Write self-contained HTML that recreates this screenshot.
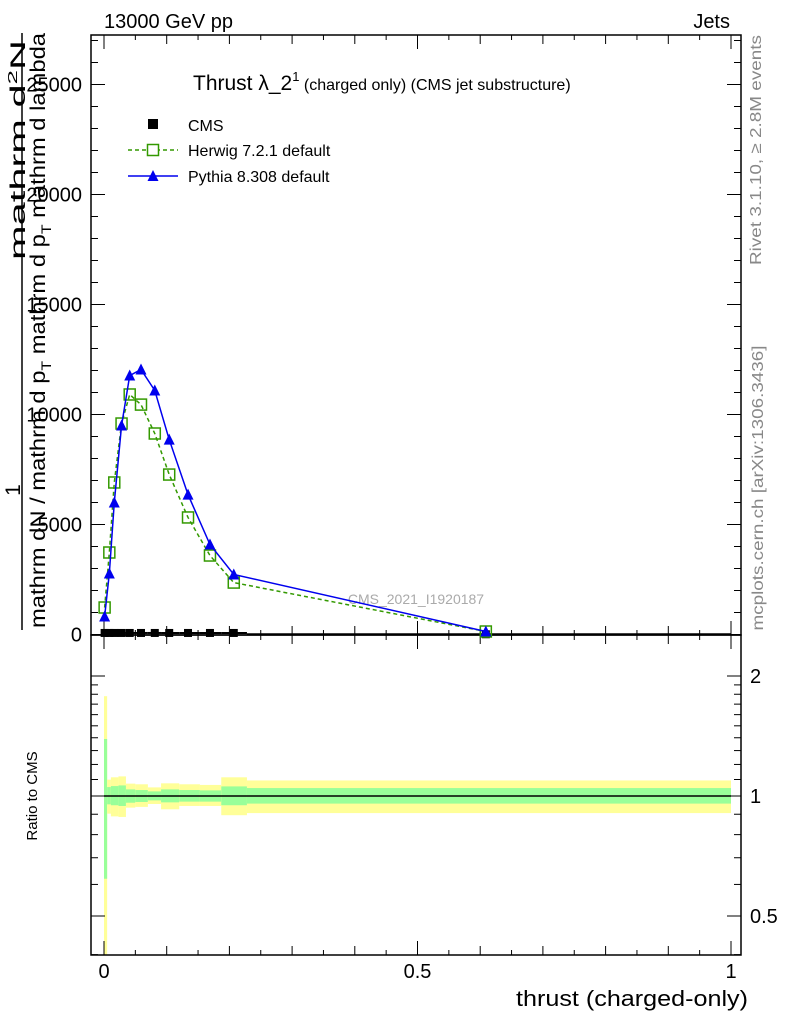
<!DOCTYPE html>
<html><head><meta charset="utf-8"><style>
body{margin:0;background:#fff}
svg{display:block;font-family:"Liberation Sans",sans-serif}
</style></head><body>
<svg id="c" width="786" height="1024" viewBox="0 0 786 1024">
<rect width="786" height="1024" fill="#fff"/>
<text x="104" y="28" font-size="20">13000 GeV pp</text>
<text x="730" y="28" font-size="20" text-anchor="end">Jets</text>
<text x="193" y="90" font-size="21">Thrust λ_2<tspan font-size="13" dy="-9">1</tspan><tspan font-size="16" dy="9"> (charged only) (CMS jet substructure)</tspan></text>
<text transform="translate(761,150) rotate(-90)" font-size="16" fill="#888" text-anchor="middle" textLength="230" lengthAdjust="spacingAndGlyphs">Rivet 3.1.10, ≥ 2.8M events</text>
<text transform="translate(763,488) rotate(-90)" font-size="16" fill="#888" text-anchor="middle" textLength="285" lengthAdjust="spacingAndGlyphs">mcplots.cern.ch [arXiv:1306.3436]</text>
<text x="416" y="604" font-size="14" fill="#aaa" text-anchor="middle">CMS_2021_I1920187</text>
<g font-size="21">
<text transform="translate(25,150) rotate(-90)" text-anchor="middle" textLength="220" lengthAdjust="spacingAndGlyphs">mathrm d<tspan font-size="13" dy="-8">2</tspan><tspan dy="8">N</tspan></text>
<line x1="22" y1="33" x2="22" y2="630" stroke="#000" stroke-width="1.5"/>
<text transform="translate(20,490) rotate(-90)" text-anchor="middle">1</text>
<text transform="translate(45,628) rotate(-90)" textLength="595" lengthAdjust="spacingAndGlyphs">mathrm dN / mathrm d p<tspan font-size="14" dy="6">T</tspan><tspan dy="-6"> mathrm d p</tspan><tspan font-size="14" dy="6">T</tspan><tspan dy="-6"> mathrm d lambda</tspan></text>
</g>
<text transform="translate(37,796) rotate(-90)" font-size="15" text-anchor="middle">Ratio to CMS</text>
<text x="748" y="1006" font-size="22" text-anchor="end" textLength="232" lengthAdjust="spacingAndGlyphs">thrust (charged-only)</text>
<g id="g"></g>
</svg>
<script>
const xVals=[0.001,0.0085,0.0164,0.028,0.041,0.059,0.081,0.104,0.134,0.169,0.207,0.609];
const binEdges=[0,0.005,0.011,0.023,0.035,0.05,0.07,0.091,0.12,0.153,0.187,0.228,1];
const cmsVals=[70,70,70,70,70,70,70,70,70,70,70,10];
const herwigVals=[1227,3727,6910,9590,10910,10450,9136,7270,5320,3590,2360,136];
const pythiaVals=[818,2773,6000,9500,11770,12045,11090,8860,6360,4090,2730,136];
const yellowUp=[1.78,1.099,1.114,1.12,1.074,1.07,1.051,1.076,1.07,1.066,1.114,1.094];
const yellowDn=[0.39,0.903,0.889,0.886,0.935,0.939,0.955,0.926,0.944,0.944,0.895,0.906];
const greenUp=[1.39,1.053,1.059,1.063,1.039,1.035,1.027,1.039,1.035,1.033,1.057,1.047];
const greenDn=[0.62,0.953,0.948,0.944,0.962,0.966,0.975,0.964,0.968,0.968,0.948,0.957];
const mainTicks=[0,5000,10000,15000,20000,25000];
const xTicks=[0,0.5,1];
const ratioTicks=[0.5,1,2];

const L=91,R=741,MT=35,MB=635,RB=955;
const X=v=>104+v*627;
const Y=v=>634.5-v*0.022;
const RY=v=>796-Math.log10(v)*398.6;
const NS='http://www.w3.org/2000/svg';
const g=document.getElementById('g');
function mk(t,a,p){const e=document.createElementNS(NS,t);for(const k in a)e.setAttribute(k,a[k]);(p||g).appendChild(e);return e;}

const bands=mk('g',{});


for(let i=0;i<binEdges.length-1;i++){
  const x1=X(binEdges[i]),x2=X(binEdges[i+1]);
  const yt=Math.max(RY(yellowUp[i]),MB),yb=Math.min(RY(yellowDn[i]),RB);
  const r1=mk('rect',{x:x1,y:yt,width:x2-x1,height:yb-yt,fill:'#ffff99'},bands);
  
  
  const gt=RY(greenUp[i]),gb=RY(greenDn[i]);
  const r2=mk('rect',{x:x1,y:gt,width:x2-x1,height:gb-gt,fill:'#99ff99'},bands);
  
  
}
const rl=mk('line',{x1:X(binEdges[0]),x2:X(binEdges[binEdges.length-1]),y1:RY(1),y2:RY(1),stroke:'#000','stroke-width':1.5});



const f1=mk('rect',{x:L,y:MT,width:R-L,height:MB-MT,fill:'none',stroke:'#000','stroke-width':1.5});


const f2=mk('rect',{x:L,y:MB,width:R-L,height:RB-MB,fill:'none',stroke:'#000','stroke-width':1.5});



for(let k=0;k<=20;k++){
  const v=k*0.05,x=X(v);
  const len=(k%10==0)?14:(k%2==0?9:5);
  for(const [yb,d] of [[MB,-1],[MT,1],[RB,-1],[MB,1]]) mk('line',{x1:x,x2:x,y1:yb,y2:yb+d*len,stroke:'#000'});
}
xTicks.forEach(v=>{const t=mk('text',{x:X(v),y:978,'font-size':20,'text-anchor':'middle'});t.textContent=String(v);

});
for(let v=0;v<=27000;v+=1000){const y=Y(v),len=v%5000==0?14:7;
 mk('line',{x1:L,x2:L+len,y1:y,y2:y,stroke:'#000'});mk('line',{x1:R,x2:R-len,y1:y,y2:y,stroke:'#000'});}
mainTicks.forEach(v=>{const t=mk('text',{x:82,y:Y(v)+7,'font-size':20,'text-anchor':'end'});t.textContent=String(v);

});
for(let v=0.4;v<=2.5;v+=(v<2?0.1:0.5)){const y=RY(v);if(y<MB||y>RB)continue;
 const major=ratioTicks.some(r=>Math.abs(r-v)<1e-6);const len=major?14:7;
 mk('line',{x1:L,x2:L+len,y1:y,y2:y,stroke:'#000'});mk('line',{x1:R,x2:R-len,y1:y,y2:y,stroke:'#000'});}
ratioTicks.forEach(v=>{
 const t2=mk('text',{x:750,y:RY(v)+7,'font-size':20});t2.textContent=String(v);
 
 });

for(let i=0;i<cmsVals.length;i++){
 const l=mk('line',{x1:X(binEdges[i]),x2:X(binEdges[i+1]),y1:Y(cmsVals[i]),y2:Y(cmsVals[i]),stroke:'#000','stroke-width':2});
 
 
 const r=mk('rect',{x:X(xVals[i])-4,y:Y(cmsVals[i])-4,width:8,height:8,fill:'#000'});
 
 
}
const hp=mk('polyline',{points:xVals.map((x,i)=>X(x)+','+Y(herwigVals[i])).join(' '),fill:'none',stroke:'#339900','stroke-width':1.5,'stroke-dasharray':'4,3'});


xVals.forEach((x,i)=>{const r=mk('rect',{x:X(x)-5.5,y:Y(herwigVals[i])-5.5,width:11,height:11,fill:'none',stroke:'#339900','stroke-width':1.5});
 
 });
const pp=mk('polyline',{points:xVals.map((x,i)=>X(x)+','+Y(pythiaVals[i])).join(' '),fill:'none',stroke:'#0000ee','stroke-width':1.5});


xVals.forEach((x,i)=>{const cx=X(x),cy=Y(pythiaVals[i]);
 const p=mk('polygon',{points:`${cx},${cy-6} ${cx-5.5},${cy+5} ${cx+5.5},${cy+5}`,fill:'#0000ee'});
 
 });

const lg=mk('g',{});


mk('rect',{x:148,y:119,width:10,height:10,fill:'#000'},lg);
let t=mk('text',{x:188,y:131,'font-size':16},lg);t.textContent='CMS';
mk('line',{x1:128,x2:178,y1:150,y2:150,stroke:'#339900','stroke-width':1.5,'stroke-dasharray':'4,3'},lg);
mk('rect',{x:147.5,y:144.5,width:11,height:11,fill:'#fff',stroke:'#339900','stroke-width':1.5},lg);
t=mk('text',{x:188,y:156,'font-size':16},lg);t.textContent='Herwig 7.2.1 default';
mk('line',{x1:128,x2:178,y1:176,y2:176,stroke:'#0000ee','stroke-width':1.5},lg);
mk('polygon',{points:'153,170 147.5,181 158.5,181',fill:'#0000ee'},lg);
t=mk('text',{x:188,y:182,'font-size':16},lg);t.textContent='Pythia 8.308 default';
</script>
</body></html>
